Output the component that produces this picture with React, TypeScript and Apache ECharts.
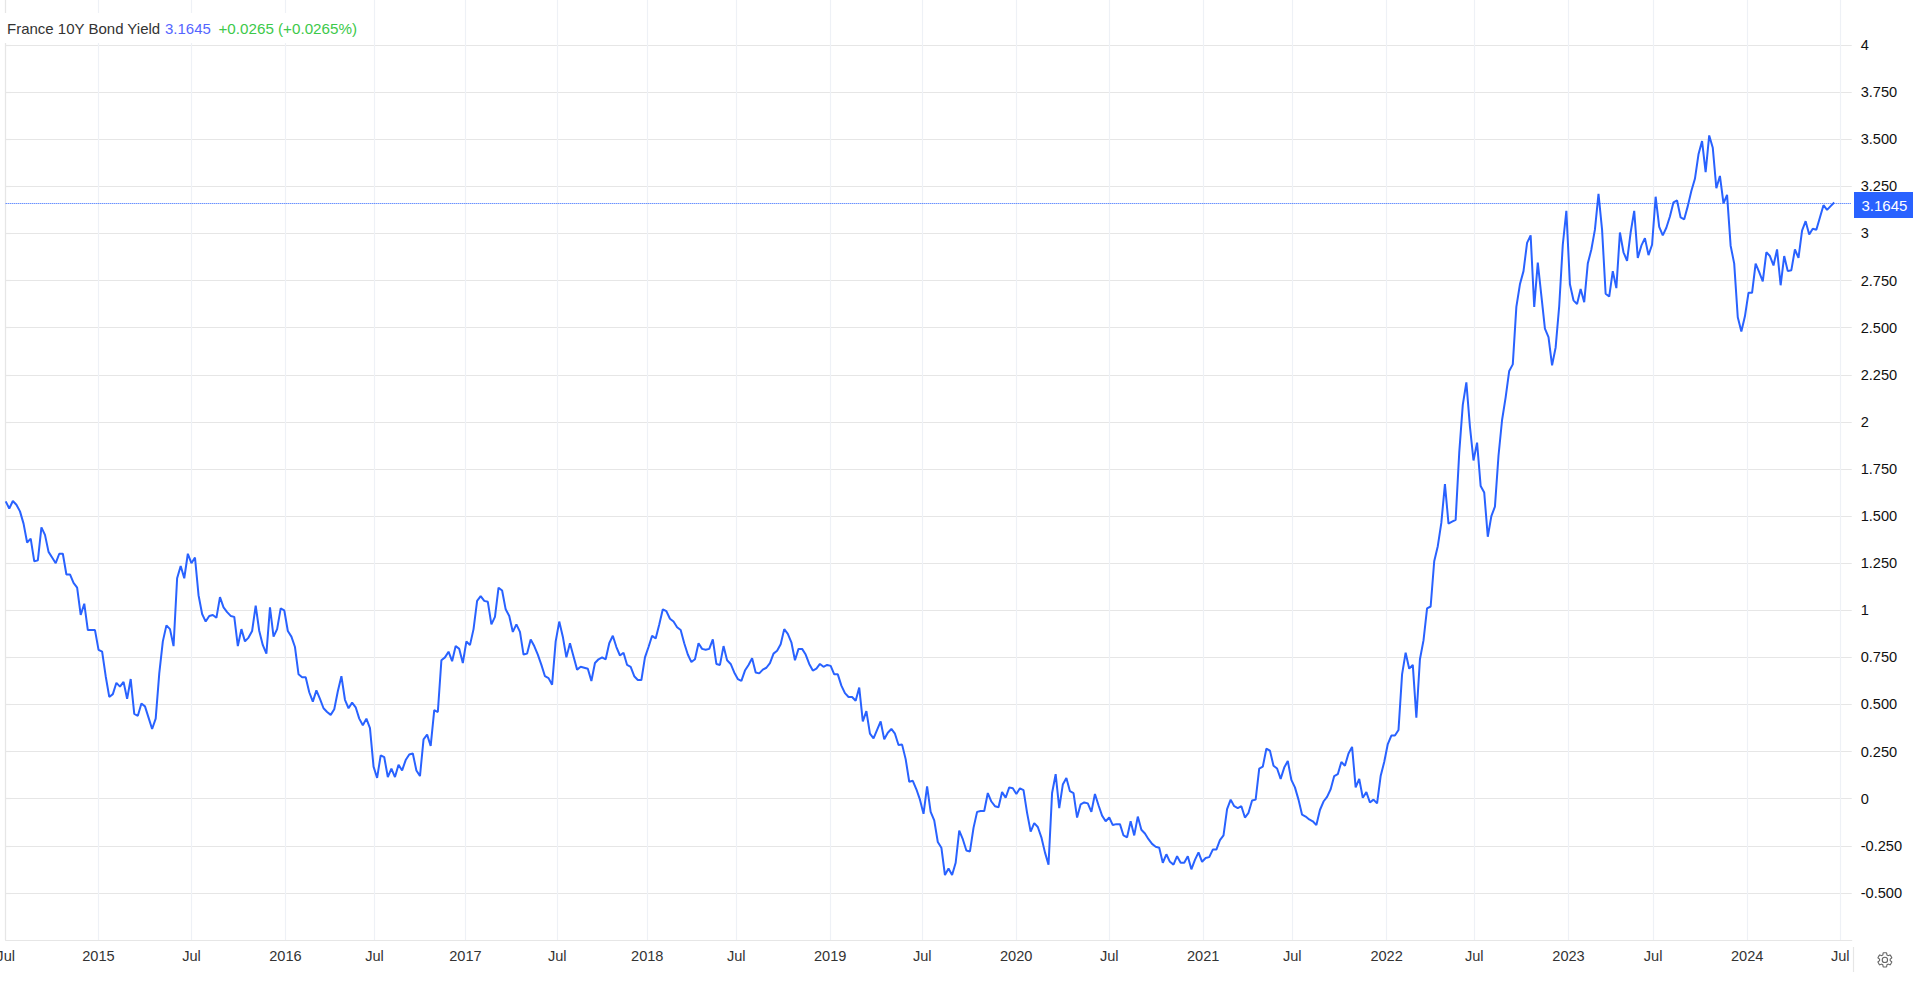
import React, { useEffect, useRef } from "react";
import * as echarts from "echarts";

const SERIES_NAME = "France 10Y Bond Yield";
const LAST_VALUE = 3.1645;
const CHANGE_TEXT = "+0.0265 (+0.0265%)";

const yields2014to2015 = [
  1.578, 1.54, 1.58, 1.56, 1.525, 1.46, 1.36, 1.38, 1.26, 1.265,
  1.44, 1.4, 1.31, 1.28, 1.25, 1.3, 1.3, 1.19, 1.19, 1.145,
  1.12, 0.975, 1.035, 0.895, 0.895, 0.895, 0.79, 0.78, 0.65, 0.54,
  0.555, 0.615, 0.595, 0.62, 0.53, 0.635, 0.45, 0.44, 0.505, 0.49,
  0.43, 0.37, 0.425, 0.665, 0.835, 0.92, 0.9, 0.81, 1.17, 1.235,
  1.17, 1.3, 1.25, 1.28, 1.08, 0.98, 0.94, 0.97, 0.975, 0.96,
  1.07, 1.015, 0.99, 0.97, 0.965, 0.81, 0.9, 0.835, 0.855, 0.89,
  1.025, 0.89, 0.815, 0.77, 1.015, 0.86, 0.9, 1.01, 1.0, 0.89,
];
const yields2016to2017 = [
  0.86, 0.805, 0.66, 0.645, 0.645, 0.565, 0.515, 0.575, 0.53, 0.48,
  0.46, 0.445, 0.475, 0.57, 0.65, 0.525, 0.48, 0.51, 0.485, 0.425,
  0.39, 0.425, 0.375, 0.17, 0.11, 0.23, 0.22, 0.115, 0.16, 0.115,
  0.18, 0.15, 0.205, 0.235, 0.24, 0.15, 0.12, 0.315, 0.34, 0.28,
  0.47, 0.46, 0.735, 0.75, 0.78, 0.73, 0.81, 0.795, 0.72, 0.835,
  0.815, 0.9, 1.05, 1.075, 1.05, 1.045, 0.925, 0.965, 1.12, 1.105,
  1.005, 0.97, 0.885, 0.925, 0.885, 0.765, 0.77, 0.845, 0.81, 0.765,
  0.71, 0.65, 0.64, 0.605, 0.835, 0.94, 0.86, 0.75, 0.825, 0.755,
];
const yields2018to2019 = [
  0.685, 0.7, 0.695, 0.69, 0.625, 0.72, 0.74, 0.75, 0.74, 0.825,
  0.865, 0.805, 0.76, 0.775, 0.71, 0.7, 0.65, 0.63, 0.63, 0.75,
  0.805, 0.865, 0.85, 0.925, 1.005, 0.995, 0.955, 0.94, 0.91, 0.895,
  0.825, 0.765, 0.725, 0.74, 0.825, 0.795, 0.79, 0.795, 0.845, 0.715,
  0.71, 0.81, 0.735, 0.715, 0.67, 0.635, 0.625, 0.68, 0.71, 0.745,
  0.67, 0.665, 0.685, 0.695, 0.72, 0.77, 0.785, 0.82, 0.9, 0.875,
  0.83, 0.735, 0.795, 0.795, 0.765, 0.715, 0.68, 0.69, 0.715, 0.7,
  0.71, 0.705, 0.66, 0.66, 0.6, 0.56, 0.54, 0.54, 0.52, 0.59,
  0.41, 0.465, 0.345, 0.32, 0.365, 0.41, 0.315, 0.35, 0.37, 0.345,
  0.285,
];
const yields2019to2020 = [
  0.287, 0.21, 0.09, 0.095, 0.05, -0.005, -0.08, 0.065, -0.07, -0.115,
  -0.23, -0.26, -0.405, -0.37, -0.405, -0.34, -0.17, -0.215, -0.275, -0.28,
  -0.155, -0.07, -0.065, -0.065, 0.03, -0.015, -0.04, -0.045, 0.035, 0.005,
  0.06, 0.055, 0.025, 0.055, 0.045, -0.075, -0.175, -0.13, -0.15, -0.205,
  -0.285, -0.35, 0.03, 0.13, -0.05, 0.075, 0.11, 0.04, 0.03, -0.1,
  -0.03, -0.02, -0.025, -0.07, 0.025, -0.035, -0.09, -0.12, -0.1, -0.14,
  -0.135, -0.135, -0.195, -0.205, -0.12, -0.195, -0.095, -0.165, -0.185, -0.215,
  -0.24, -0.255, -0.26, -0.34, -0.295, -0.335, -0.35, -0.305, -0.34, -0.34,
  -0.305, -0.375, -0.325, -0.285, -0.335, -0.315, -0.31, -0.27, -0.27, -0.22,
  -0.195,
];
const yields2021to2022 = [
  -0.055, -0.005, -0.04, -0.05, -0.04, -0.1, -0.075, -0.01, -0.005, 0.16,
  0.17, 0.265, 0.255, 0.175, 0.16, 0.105, 0.165, 0.2, 0.1, 0.06,
  -0.005, -0.085, -0.095, -0.11, -0.12, -0.14, -0.06, -0.015, 0.01, 0.05,
  0.12, 0.13, 0.195, 0.175, 0.24, 0.275, 0.06, 0.105, 0.005, 0.035,
  -0.02, -0.005, -0.025, 0.12, 0.195, 0.29, 0.335, 0.335, 0.365, 0.66,
  0.775, 0.69, 0.71, 0.43, 0.74, 0.84, 1.01, 1.02, 1.26, 1.34,
  1.465, 1.67, 1.46, 1.47, 1.48, 1.835, 2.09, 2.21, 1.975, 1.795,
  1.89, 1.66, 1.625, 1.39, 1.5, 1.55, 1.82, 2.01,
];
const yields2022to2024 = [
  2.13, 2.27, 2.305, 2.61, 2.73, 2.8, 2.95, 2.99, 2.61, 2.845,
  2.67, 2.495, 2.45, 2.3, 2.395, 2.615, 2.94, 3.12, 2.73, 2.645,
  2.625, 2.705, 2.635, 2.84, 2.915, 3.02, 3.21, 3.02, 2.68, 2.665,
  2.8, 2.71, 3.005, 2.9, 2.855, 3.005, 3.12, 2.87, 2.935, 2.975,
  2.885, 2.94, 3.195, 3.035, 2.99, 3.03, 3.09, 3.165, 3.175, 3.085,
  3.075, 3.145, 3.225, 3.29, 3.42, 3.49, 3.325, 3.52, 3.455, 3.24,
  3.305, 3.16, 3.205, 2.935, 2.84, 2.555, 2.48, 2.56, 2.685, 2.685,
  2.84, 2.795, 2.745, 2.9, 2.88, 2.83, 2.915, 2.725, 2.88, 2.8,
  2.805, 2.915, 2.87, 3.015, 3.065, 2.995, 3.025, 3.02, 3.085, 3.15,
  3.125, 3.145, LAST_VALUE,
];

const yieldValues = [
  ...yields2014to2015,
  ...yields2016to2017,
  ...yields2018to2019,
  ...yields2019to2020,
  ...yields2021to2022,
  ...yields2022to2024,
];

const xTickPositions = [
  0, 25.98, 52.02, 78.34, 103.26, 128.74, 154.45, 179.64, 204.56, 230.88, 256.64,
  282.96, 309, 335.32, 360.24, 386.67, 411.2, 437.6, 461.3, 487.64, 513.7,
];
const xTickLabels = [
  "Jul", "2015", "Jul", "2016", "Jul", "2017", "Jul", "2018", "Jul", "2019", "Jul",
  "2020", "Jul", "2021", "Jul", "2022", "Jul", "2023", "Jul", "2024", "Jul",
];
const yTickValues = [
  -0.5, -0.25, 0, 0.25, 0.5, 0.75, 1, 1.25, 1.5, 1.75, 2,
  2.25, 2.5, 2.75, 3, 3.25, 3.5, 3.75, 4,
];

const BLUE = "#2962ff";
const FONT = "'Liberation Sans', Arial, sans-serif";
const GEAR =
  "M19.14 12.94c.04-.3.06-.61.06-.94 0-.32-.02-.64-.07-.94l2.03-1.58c.18-.14.23-.41.12-.61l-1.92-3.32c-.12-.22-.37-.29-.59-.22l-2.39.96c-.5-.38-1.03-.7-1.62-.94l-.36-2.54c-.04-.24-.24-.41-.48-.41h-3.84c-.24 0-.43.17-.47.41l-.36 2.54c-.59.24-1.13.57-1.62.94l-2.39-.96c-.22-.08-.47 0-.59.22L2.74 8.87c-.12.21-.08.47.12.61l2.03 1.58c-.05.3-.09.63-.09.94s.02.64.07.94l-2.03 1.58c-.18.14-.23.41-.12.61l1.92 3.32c.12.22.37.29.59.22l2.39-.96c.5.38 1.03.7 1.62.94l.36 2.54c.05.24.24.41.48.41h3.84c.24 0 .44-.17.47-.41l.36-2.54c.59-.24 1.13-.56 1.62-.94l2.39.96c.22.08.47 0 .59-.22l1.92-3.32c.12-.22.07-.47-.12-.61l-2.01-1.58zM12 15.6c-1.98 0-3.6-1.62-3.6-3.6s1.62-3.6 3.6-3.6 3.6 1.62 3.6 3.6-1.62 3.6-3.6 3.6z";
echarts.graphic.registerShape("gear", echarts.graphic.extendPath(GEAR as any, {}) as any);

const formatY = (v: number) => (Number.isInteger(v) ? String(v) : v.toFixed(3));

export default function App() {
  const ref = useRef<HTMLDivElement>(null);
  useEffect(() => {
    document.body.style.margin = "0";
    const chart = echarts.init(ref.current!, null, { renderer: "svg" });
    chart.setOption({
      animation: false,
      backgroundColor: "#ffffff",
      grid: { left: 5.7, right: 61.3, top: 0, bottom: 51, containLabel: false, outerBoundsMode: "none" },
      xAxis: {
        type: "value",
        min: 0,
        max: 516.9,
        axisLine: { show: true, onZero: false, lineStyle: { color: "#e6e6e6", width: 1.2 } },
        axisTick: { show: false, customValues: xTickPositions },
        axisLabel: {
          customValues: xTickPositions,
          formatter: (v: number) => xTickLabels[xTickPositions.indexOf(v)] ?? "",
          color: "#333333",
          fontFamily: FONT,
          fontSize: 14.6,
          margin: 8,
          hideOverlap: false,
        },
        splitLine: { show: true, lineStyle: { color: "#eef1f6", width: 1.2 } },
      },
      yAxis: {
        type: "value",
        position: "right",
        offset: 2,
        min: -0.75,
        max: 4.239,
        axisLine: { show: true, lineStyle: { color: "#e6e6e6", width: 1.2 } },
        axisTick: { show: true, length: 5, lineStyle: { color: "#e6e6e6", width: 1.2 }, customValues: yTickValues },
        axisLabel: {
          customValues: yTickValues,
          formatter: formatY,
          color: "#111111",
          fontFamily: FONT,
          fontSize: 14.6,
          margin: 7,
        },
        splitLine: { show: true, lineStyle: { color: "#e6e6e6", width: 1.2 } },
      },
      series: [
        {
          name: SERIES_NAME,
          type: "line",
          data: yieldValues.map((v, i) => [i, v]),
          showSymbol: false,
          smooth: false,
          lineStyle: { color: BLUE, width: 2 },
          markLine: {
            silent: true,
            animation: false,
            symbol: "none",
            label: { show: false },
            lineStyle: { color: BLUE, type: [1, 1], width: 1 },
            data: [{ yAxis: LAST_VALUE }],
          },
        },
      ],
      graphic: [
        { type: "rect", z: 50, shape: { x: 0, y: 13, width: 357, height: 30 }, style: { fill: "#ffffff" } },
        { type: "text", z: 51, x: 7, y: 28.5, style: { text: SERIES_NAME, fill: "#333333", font: `15px ${FONT}`, verticalAlign: "middle" } },
        { type: "text", z: 51, x: 165, y: 28.5, style: { text: String(LAST_VALUE), fill: "#5566ff", font: `15px ${FONT}`, verticalAlign: "middle" } },
        { type: "text", z: 51, x: 218.5, y: 28.5, style: { text: CHANGE_TEXT, fill: "#3cc94a", font: `15.2px ${FONT}`, verticalAlign: "middle" } },
        { type: "rect", z: 50, shape: { x: 1854, y: 192, width: 59, height: 26 }, style: { fill: BLUE } },
        { type: "text", z: 51, x: 1861.5, y: 205.5, style: { text: String(LAST_VALUE), fill: "#ffffff", font: `15px ${FONT}`, verticalAlign: "middle" } },
        { type: "line", z: 50, shape: { x1: 1853.5, y1: 947, x2: 1853.5, y2: 972 }, style: { stroke: "#e6e6e6", lineWidth: 1.2 } },
        { type: "gear", z: 50, x: 1876, y: 951, scaleX: 0.74, scaleY: 0.74, style: { fill: "none", stroke: "#666666", lineWidth: 1.5 } },
      ],
    });
    return () => chart.dispose();
  }, []);
  return <div ref={ref} style={{ width: 1913, height: 991 }} />;
}
